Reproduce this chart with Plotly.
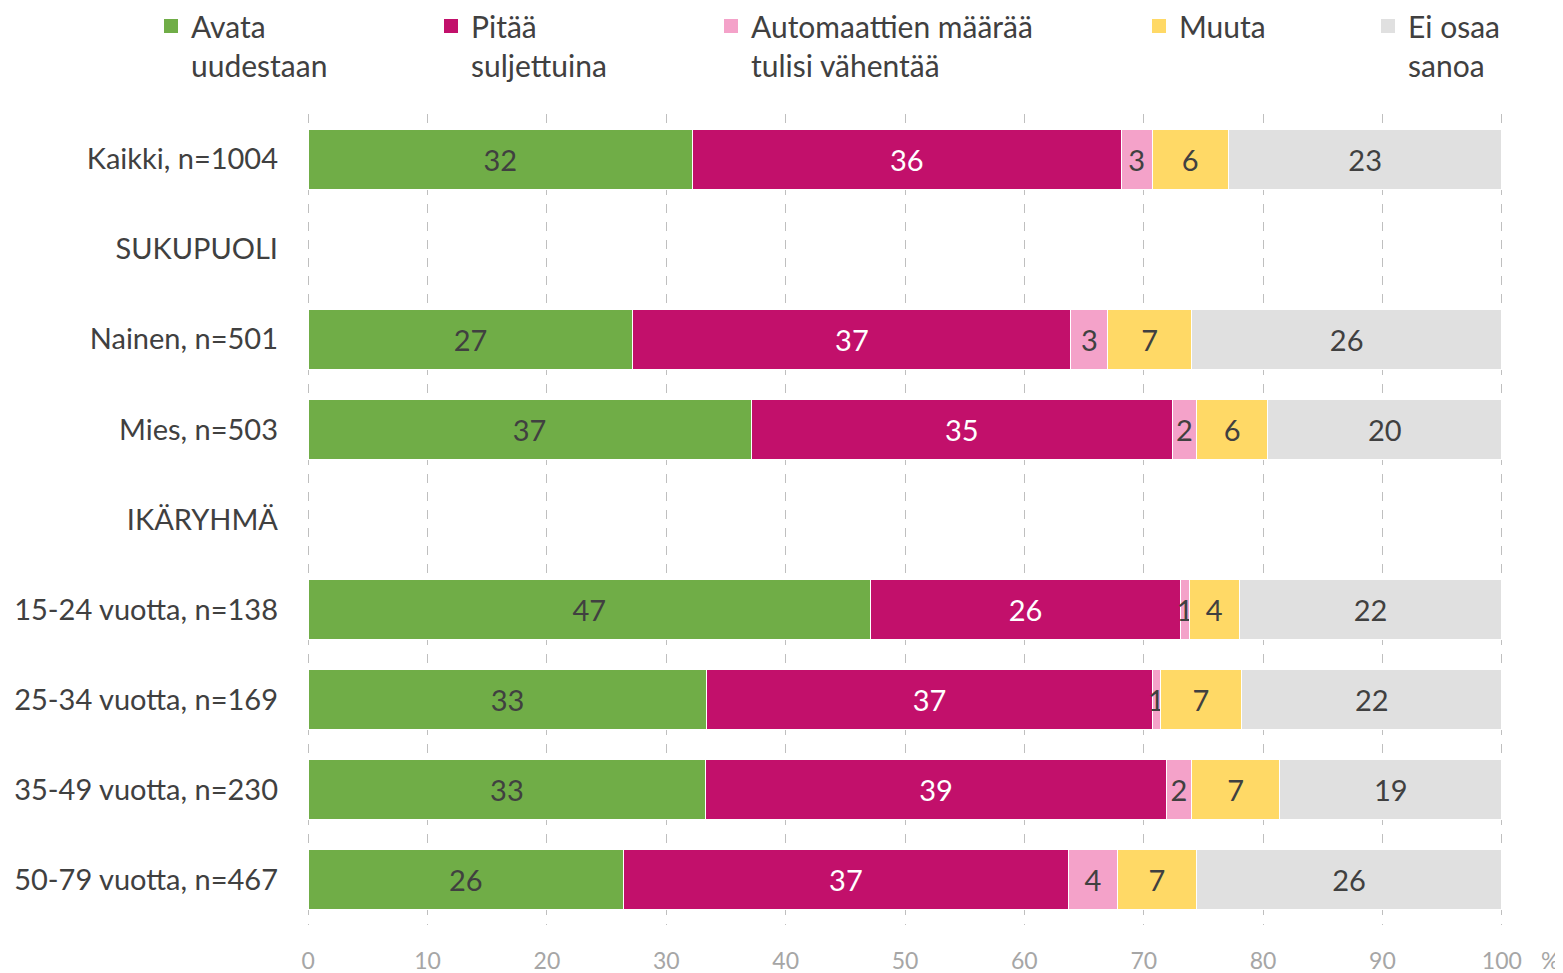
import plotly.graph_objects as go

categories = ["Kaikki, n=1004", "SUKUPUOLI", "Nainen, n=501", "Mies, n=503", "IKÄRYHMÄ",
              "15-24 vuotta, n=138", "25-34 vuotta, n=169", "35-49 vuotta, n=230", "50-79 vuotta, n=467"]
series_names = ["Avata<br>uudestaan", "Pitää<br>suljettuina", "Automaattien määrää<br>tulisi vähentää",
                "Muuta", "Ei osaa<br>sanoa"]
avata = [32.2, None, 27.2, 37.1, None, 47.1, 33.4, 33.3, 26.4]
pitaa = [35.9, None, 36.7, 35.3, None, 26.0, 37.3, 38.6, 37.3]
automaatit = [2.6, None, 3.1, 2.0, None, 0.7, 0.7, 2.1, 4.1]
muuta = [6.4, None, 7.0, 6.0, None, 4.2, 6.8, 7.4, 6.6]
ei_osaa = [22.9, None, 26.0, 19.6, None, 22.0, 21.8, 18.6, 25.6]
x_ticks = [0, 10, 20, 30, 40, 50, 60, 70, 80, 90, 100]

colors = ["#70AD47", "#C2106B", "#F4A2C9", "#FFD966", "#E0E0E0"]
text_colors = ["#404040", "#FFFFFF", "#404040", "#404040", "#404040"]
values = [avata, pitaa, automaatit, muuta, ei_osaa]

FONT = "Lato, Open Sans, sans-serif"
FS = 29
LFS = 30
OFF = 8  # page body margin
W, H = 1563 - OFF, 973 - OFF
ML, MT = 307 - OFF, 114 - OFF
MR, MB = 60, 48
PW, PH = W - ML - MR, H - MT - MB

legend_px = [151, 431, 711, 1139, 1368]

fig = go.Figure()
for i, (name, vals) in enumerate(zip(series_names, values)):
    lg = "legend" if i == 0 else f"legend{i+1}"
    fig.add_trace(go.Bar(
        y=categories, x=vals, name=name, orientation="h",
        marker=dict(color=colors[i], line=dict(color="white", width=1)),
        texttemplate="%{x:.0f}", textposition="inside", insidetextanchor="middle",
        textangle=0, textfont=dict(color=text_colors[i], size=FS, family=FONT),
        legendgroup=name, showlegend=False, hoverinfo="skip",
    ))
    fig.add_trace(go.Scatter(
        x=[None], y=[None], mode="markers", name=name,
        marker=dict(symbol="square", size=14, color=colors[i]),
        legend=lg, legendgroup=name, showlegend=True, hoverinfo="skip",
    ))

layout_legends = {}
for i, px in enumerate(legend_px):
    key = "legend" if i == 0 else f"legend{i+1}"
    layout_legends[key] = dict(
        x=(px - OFF - ML) / PW, y=1 + 114 / PH, xanchor="left", yanchor="top",
        orientation="v", valign="top", bgcolor="rgba(0,0,0,0)",
        font=dict(size=LFS, family=FONT, color="#404040"), itemwidth=30,
    )

fig.update_layout(
    width=W, height=H, barmode="stack", bargap=1/3, showlegend=True,
    margin=dict(l=ML, r=MR, t=MT, b=MB, autoexpand=False),
    paper_bgcolor="white", plot_bgcolor="white",
    font=dict(family=FONT, size=FS, color="#404040"),
    uniformtext=dict(minsize=FS, mode="show"),
    xaxis=dict(range=[-0.1, 100.1], tickvals=x_ticks, showgrid=True, gridcolor="#BFBFBF",
               griddash="dash", gridwidth=1, zeroline=False, showline=False,
               tickfont=dict(color="#A6A6A6", size=23, family=FONT), ticklabelstandoff=20),
    yaxis=dict(categoryorder="array", categoryarray=categories, autorange="reversed",
               type="category", showgrid=False, zeroline=False, showline=False,
               tickfont=dict(size=FS, color="#404040", family=FONT), ticklabelstandoff=28),
    annotations=[dict(text="%", x=(1550 - OFF - ML) / PW, y=0, xref="paper", yref="paper",
                      xanchor="center", yanchor="middle", yshift=-35, showarrow=False,
                      font=dict(color="#A6A6A6", size=23, family=FONT))],
    **layout_legends,
)
fig.write_html("out.html")
